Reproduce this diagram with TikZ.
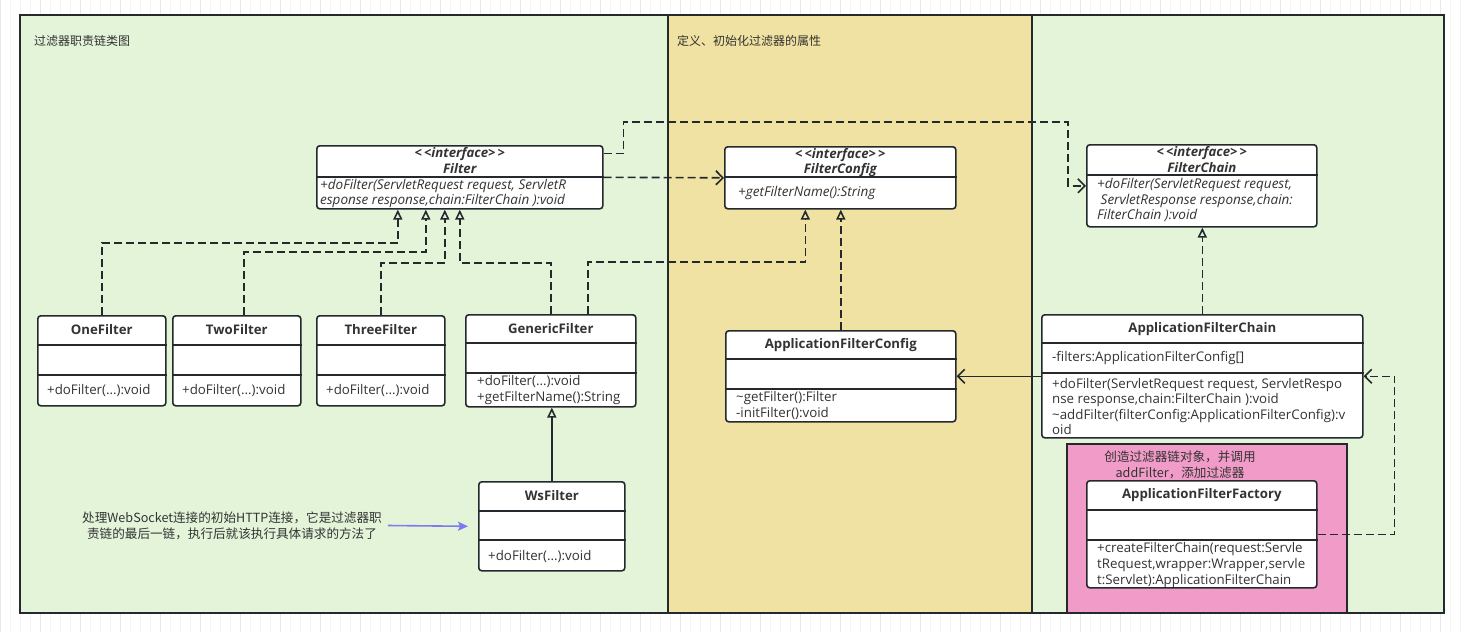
\documentclass[tikz,border=0pt]{standalone}
\usepackage{fontspec}
\setmainfont{Open Sans}
\newfontfamily\cjk{Noto Sans CJK SC}
\usepackage{tikz}
\usetikzlibrary{arrows.meta}
\definecolor{edgegray}{HTML}{24292E}
\definecolor{txtgray}{HTML}{333333}
\definecolor{greenbg}{HTML}{E3F4D9}
\definecolor{khaki}{HTML}{F0E2A2}
\definecolor{pinkbg}{HTML}{F19CC8}
\definecolor{noteblue}{HTML}{7C7CF0}
\definecolor{gridminor}{HTML}{F4F4F4}
\definecolor{gridmajor}{HTML}{E9E9E9}

\begin{document}
\begin{tikzpicture}[x=1pt, y=-1pt,
    every node/.style={font=\fontsize{13.3}{15.6}\selectfont, text=txtgray},
    cls/.style={draw=edgegray, fill=white, line width=1.6pt, rounded corners=3pt,
                anchor=north west, inner sep=0pt},
    sep/.style={draw=edgegray, line width=1.6pt},
    ttl/.style={font=\fontsize{13.2}{15.6}\selectfont\bfseries},
    itf/.style={font=\fontsize{13.2}{15.6}\selectfont\bfseries\itshape},
    mth/.style={anchor=west, inner sep=0pt, align=left},
    mthi/.style={mth, font=\fontsize{13.5}{15.6}\selectfont\itshape},
    zh/.style={font=\cjk\fontsize{12}{16}\selectfont},
    zhnote/.style={font=\cjk\fontsize{12.6}{16}\selectfont, align=center, inner sep=0pt},
    real/.style={draw=edgegray, line width=1.6pt, dash pattern=on 8pt off 4pt,
                 -{Triangle[open, length=10pt, width=9pt]}},
    inh/.style={draw=edgegray, line width=1.6pt, -{Triangle[open, length=10pt, width=9pt]}},
    dep/.style={draw=edgegray, line width=1.6pt, dash pattern=on 8pt off 4pt,
                -{Straight Barb[length=7pt, width=14pt]}},
    assoc/.style={draw=edgegray, line width=1.6pt, -{Straight Barb[length=7pt, width=14pt]}},
    notearr/.style={draw=noteblue, line width=1.6pt, -{Stealth[length=10pt, width=9pt, inset=2pt]}}
  ]
  \useasboundingbox (0,0) rectangle (1461,632);
  % canvas grid
  \fill[white] (0,0) rectangle (1461,632);
  \draw[gridminor, step=10] (0,0) grid (1461,632);
  \draw[gridmajor, step=40] (0,0) grid (1461,632);

  % swimlanes
  \draw[edgegray, line width=1.6pt, fill=greenbg] (20,15) rectangle (1444,613);
  \draw[edgegray, line width=1.6pt, fill=khaki] (668,15) rectangle (1032,613);
  \draw[edgegray, line width=1.6pt, fill=pinkbg] (1067,444) rectangle (1347,613);
  \node[zh, anchor=west, inner sep=0pt] (lane1) at (34,41) {过滤器职责链类图};
  \node[zh, anchor=west, inner sep=0pt] (lane2) at (677,41) {定义、初始化过滤器的属性};

  % interfaces
  \node[cls, minimum width=286pt, minimum height=63pt] (filter) at (316,145) {};
  \draw[sep] ([yshift=-32pt]filter.north west) -- ([yshift=-32pt]filter.north east);
  \node[itf] (filter-s) at ([yshift=-9pt]filter.north) {{<}\,{<}interface{>}\,{>}};
  \node[itf] (filter-n) at ([yshift=-24pt]filter.north) {Filter};
  \node[mthi] (filter-m) at (320,193.5)
    {+doFilter(ServletRequest request, ServletR\\esponse response,chain:FilterChain ):void};

  \node[cls, minimum width=231pt, minimum height=62pt] (fcfg) at (724,146) {};
  \draw[sep] ([yshift=-31pt]fcfg.north west) -- ([yshift=-31pt]fcfg.north east);
  \node[itf] (fcfg-s) at ([yshift=-9pt]fcfg.north) {{<}\,{<}interface{>}\,{>}};
  \node[itf] (fcfg-n) at ([yshift=-24pt]fcfg.north) {FilterConfig};
  \node[mthi] (fcfg-m) at (738,193) {+getFilterName():String};

  \node[cls, minimum width=230pt, minimum height=82pt] (fchain) at (1086,144) {};
  \draw[sep] ([yshift=-31pt]fchain.north west) -- ([yshift=-31pt]fchain.north east);
  \node[itf] (fchain-s) at ([yshift=-9pt]fchain.north) {{<}\,{<}interface{>}\,{>}};
  \node[itf] (fchain-n) at ([yshift=-24pt]fchain.north) {FilterChain};
  \node[mthi] (fchain-m) at (1097,200)
    {+doFilter(ServletRequest request,\\\ ServletResponse response,chain:\\FilterChain ):void};

  % filters
  \node[cls, minimum width=128pt, minimum height=90pt] (one) at (37,315) {};
  \draw[sep] ([yshift=-30pt]one.north west) -- ([yshift=-30pt]one.north east);
  \draw[sep] ([yshift=-60pt]one.north west) -- ([yshift=-60pt]one.north east);
  \node[ttl] (one-n) at ([yshift=-15pt]one.north) {OneFilter};
  \node[mth] (one-m) at (47,390) {+doFilter(...):void};

  \node[cls, minimum width=128pt, minimum height=90pt] (two) at (172,315) {};
  \draw[sep] ([yshift=-30pt]two.north west) -- ([yshift=-30pt]two.north east);
  \draw[sep] ([yshift=-60pt]two.north west) -- ([yshift=-60pt]two.north east);
  \node[ttl] (two-n) at ([yshift=-15pt]two.north) {TwoFilter};
  \node[mth] (two-m) at (182,390) {+doFilter(...):void};

  \node[cls, minimum width=128pt, minimum height=90pt] (three) at (316,315) {};
  \draw[sep] ([yshift=-30pt]three.north west) -- ([yshift=-30pt]three.north east);
  \draw[sep] ([yshift=-60pt]three.north west) -- ([yshift=-60pt]three.north east);
  \node[ttl] (three-n) at ([yshift=-15pt]three.north) {ThreeFilter};
  \node[mth] (three-m) at (326,390) {+doFilter(...):void};

  \node[cls, minimum width=170pt, minimum height=92pt] (gen) at (465,314) {};
  \draw[sep] ([yshift=-29pt]gen.north west) -- ([yshift=-29pt]gen.north east);
  \draw[sep] ([yshift=-59pt]gen.north west) -- ([yshift=-59pt]gen.north east);
  \node[ttl] (gen-n) at ([yshift=-15pt]gen.north) {GenericFilter};
  \node[mth] (gen-m) at (477,390) {+doFilter(...):void\\+getFilterName():String};

  \node[cls, minimum width=146pt, minimum height=89pt] (ws) at (478,481) {};
  \draw[sep] ([yshift=-30pt]ws.north west) -- ([yshift=-30pt]ws.north east);
  \draw[sep] ([yshift=-59pt]ws.north west) -- ([yshift=-59pt]ws.north east);
  \node[ttl] (ws-n) at ([yshift=-15pt]ws.north) {WsFilter};
  \node[mth] (ws-m) at (488,556) {+doFilter(...):void};

  \node[zhnote] (note) at (232,525.5)
    {处理WebSocket连接的初始HTTP连接，它是过滤器职\\责链的最后一链，执行后就该执行具体请求的方法了};

  % config and chain
  \node[cls, minimum width=230pt, minimum height=91pt] (appcfg) at (725,330) {};
  \draw[sep] ([yshift=-29pt]appcfg.north west) -- ([yshift=-29pt]appcfg.north east);
  \draw[sep] ([yshift=-59pt]appcfg.north west) -- ([yshift=-59pt]appcfg.north east);
  \node[ttl] (appcfg-n) at ([yshift=-15pt]appcfg.north) {ApplicationFilterConfig};
  \node[mth] (appcfg-m) at (736,405.5) {\textasciitilde getFilter():Filter\\-initFilter():void};

  \node[cls, minimum width=321pt, minimum height=123pt] (appchain) at (1041,314) {};
  \draw[sep] ([yshift=-29pt]appchain.north west) -- ([yshift=-29pt]appchain.north east);
  \draw[sep] ([yshift=-59pt]appchain.north west) -- ([yshift=-59pt]appchain.north east);
  \node[ttl] (appchain-n) at ([yshift=-15pt]appchain.north) {ApplicationFilterChain};
  \node[mth] (appchain-f) at (1052,358) {-filters:ApplicationFilterConfig[]};
  \node[mth] (appchain-m) at (1052,406.5)
    {+doFilter(ServletRequest request, ServletRespo\\nse response,chain:FilterChain ):void\\
     \textasciitilde addFilter(filterConfig:ApplicationFilterConfig):v\\oid};

  \node[zhnote] (pinklbl) at (1180,465)
    {创造过滤器链对象，并调用\\addFilter，添加过滤器};
  \node[cls, minimum width=230pt, minimum height=107pt] (factory) at (1086,480) {};
  \draw[sep] ([yshift=-30pt]factory.north west) -- ([yshift=-30pt]factory.north east);
  \draw[sep] ([yshift=-60pt]factory.north west) -- ([yshift=-60pt]factory.north east);
  \node[ttl] (factory-n) at ([yshift=-15pt]factory.north) {ApplicationFilterFactory};
  \node[mth] (factory-m) at (1097,565)
    {+createFilterChain(request:Servle\\tRequest,wrapper:Wrapper,servle\\t:Servlet):ApplicationFilterChain};

  % relations
  \draw[real] (one.north) -- ++(0,-72) -| ([xshift=-62pt]filter.south);
  \draw[real] ([xshift=7pt]two.north) -- ++(0,-63) -| ([xshift=-34pt]filter.south);
  \draw[real] (three.north) -- ++(0,-52) -| ([xshift=-15pt]filter.south);
  \draw[real] (gen.north) -- ++(0,-51) -| (filter.south);
  \draw[real] ([xshift=37pt]gen.north) -- ++(0,-52) -| ([xshift=-35pt]fcfg.south);
  \draw[real] (appcfg.north) -- (appcfg.north |- fcfg.south);
  \draw[real] (appchain.north) -- (appchain.north |- fchain.south);
  \draw[inh] (ws.north) -- (ws.north |- gen.south);
  \draw[dep] (filter.east) -- (fcfg.west);
  \draw[dep] ([yshift=24pt]filter.east) -- ++(20,0) |- (1068,122) |- (fchain.west);
  \draw[assoc] (appchain.west) -- (appcfg.east);
  \draw[dep] (factory.east) -- ++(77,0) |- (appchain.east);
  \draw[notearr] ([xshift=6pt]note.east) -- ([xshift=-10pt]ws.west);
\end{tikzpicture}
\end{document}
